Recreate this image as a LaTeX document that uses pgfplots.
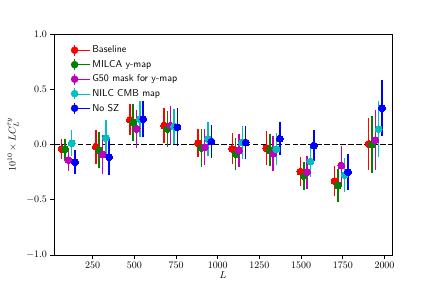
\documentclass[border=0pt]{standalone}
\usepackage{pgfplots}
\pgfplotsset{compat=1.18}
\usepackage{pgfplotstable}
\definecolor{mplr}{rgb}{1,0,0}
\definecolor{mplg}{rgb}{0,0.5,0}
\definecolor{mplm}{rgb}{0.75,0,0.75}
\definecolor{mplc}{rgb}{0,0.75,0.75}
\definecolor{mplb}{rgb}{0,0,1}
\pgfplotstableread{
x y e
64 -0.04 0.09
269 -0.02 0.155
473 0.224 0.14
678 0.172 0.16
882 0.013 0.13
1087 -0.04 0.14
1292 -0.033 0.155
1496 -0.245 0.135
1701 -0.33 0.135
1905 0.006 0.235
}\tblred
\pgfplotstableread{
x y e
84 -0.04 0.09
289 -0.05 0.165
493 0.20 0.165
698 0.14 0.16
902 -0.03 0.17
1107 -0.087 0.145
1312 -0.054 0.145
1516 -0.284 0.125
1721 -0.37 0.15
1925 0.0 0.26
}\tblgreen
\pgfplotstableread{
x y e
104 -0.14 0.10
309 -0.09 0.18
513 0.142 0.17
718 0.17 0.175
922 -0.024 0.165
1127 -0.054 0.15
1332 -0.084 0.16
1536 -0.25 0.15
1741 -0.19 0.18
1945 0.04 0.27
}\tblmag
\pgfplotstableread{
x y e
124 0.013 0.12
329 0.06 0.165
533 0.23 0.16
738 0.163 0.155
942 0.05 0.155
1147 0.018 0.15
1352 -0.042 0.145
1556 -0.154 0.14
1761 -0.275 0.155
1965 0.14 0.25
}\tblcyan
\pgfplotstableread{
x y e
144 -0.16 0.11
349 -0.115 0.165
553 0.23 0.165
758 0.157 0.17
962 0.027 0.145
1167 0.018 0.145
1372 0.052 0.15
1576 -0.01 0.14
1781 -0.25 0.16
1985 0.33 0.255
}\tblblue
\pgfplotsset{
  ebser/.style={
    only marks, mark=*, mark size=3.5bp,
    color=#1, mark options={solid, fill=#1, draw=#1, line width=0pt},
    error bars/.cd, y dir=both, y explicit,
    error bar style={line width=1.5bp, color=#1},
    error mark=none,
  },
}
\begin{document}
\begin{tikzpicture}
\path[use as bounding box] (-54bp,-36bp) rectangle (382bp,255bp);
\begin{axis}[
  at={(0,0)}, anchor=south west,
  scale only axis, width=338bp, height=221bp,
  xmin=18, xmax=2045, ymin=-1, ymax=1,
  xtick={250,500,750,1000,1250,1500,1750,2000},
  ytick={-1,-0.5,0,0.5,1},
  xticklabel style={/pgf/number format/.cd, set thousands separator={}},
  yticklabel style={/pgf/number format/.cd, fixed, fixed zerofill, precision=1},
  scaled ticks=false,
  tick align=outside, xtick pos=left, ytick pos=left,
  major tick length=3.5bp,
  every tick/.style={black, line width=0.8bp},
  axis line style={line width=0.8bp},
  xlabel={$L$},
  ylabel={$10^{10}\times LC_L^{\tau y}$},
  xlabel style={at={(axis description cs:0.5,0)}, anchor=center, yshift=-20bp},
  ylabel style={at={(axis description cs:-0.121,0.5)}, anchor=center},
  legend style={at={(axis description cs:0.0466,0.96)}, anchor=north west, draw=none, fill=none,
    font=\sffamily, row sep=2bp, inner sep=1bp},
  legend cell align=left,
  legend image code/.code={\path (0,0) rectangle (19bp,0); \draw[line width=1.5bp] (3.5bp,-5.3bp) -- (3.5bp,5.3bp); \fill (3.5bp,0) circle (3.5bp);},
]
\addplot[black, dashed, line width=1.5bp, dash pattern=on 5.55bp off 2.4bp, forget plot] coordinates {(18,0) (2045,0)};
\addplot[ebser=mplr] table[x=x, y=y, y error=e] {\tblred};
\addlegendentry{Baseline}
\addplot[ebser=mplg] table[x=x, y=y, y error=e] {\tblgreen};
\addlegendentry{MILCA y-map}
\addplot[ebser=mplm] table[x=x, y=y, y error=e] {\tblmag};
\addlegendentry{G50 mask for y-map}
\addplot[ebser=mplc] table[x=x, y=y, y error=e] {\tblcyan};
\addlegendentry{NILC CMB map}
\addplot[ebser=mplb] table[x=x, y=y, y error=e] {\tblblue};
\addlegendentry{No SZ}
\end{axis}
\end{tikzpicture}
\end{document}
